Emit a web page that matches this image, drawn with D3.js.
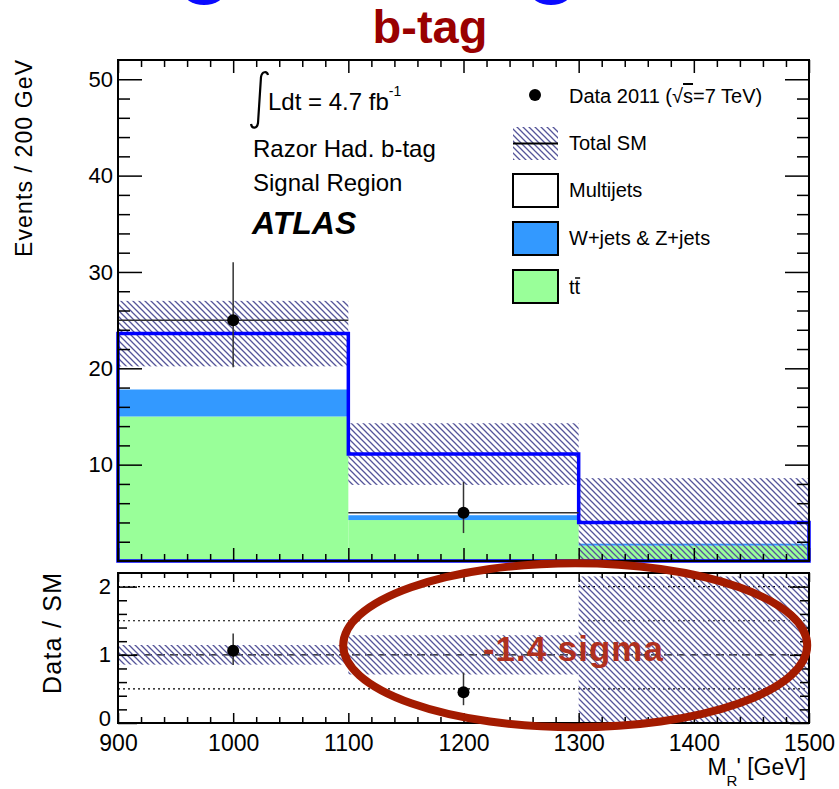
<!DOCTYPE html>
<html>
<head>
<meta charset="utf-8">
<style>
  body { margin: 0; background: #fff; }
  svg { display: block; font-family: "Liberation Sans", Arial, Helvetica, sans-serif; }
</style>
</head>
<body>
<svg width="839" height="789"></svg>
<script src="https://d3js.org/d3.v7.min.js"></script>
<script>
// bins of M_R' [GeV]
var binEdges = [900, 1100, 1300, 1500];
// stacked backgrounds (events / 200 GeV)
var ttbar = [15.0, 4.25, 1.6];
var wzjets = [2.8, 0.5, 0.2];
var multijets = [5.8, 6.35, 2.2];
var smErr = [3.4, 3.2, 4.6];
// data
var dataCounts = [25, 5, 0];
var dataErrUp = [6.0, 3.2, 0];
var dataErrDown = [4.9, 2.1, 0];
// ticks
var xTicks = [900, 1000, 1100, 1200, 1300, 1400, 1500];
var yTicks = [10, 20, 30, 40, 50];
var ratioTicks = [0, 1, 2];
var ratioGrid = [0.5, 1.5, 2];

var font = "Liberation Sans, Arial, sans-serif";
var svg = d3.select("svg");
svg.append("rect").attr("width", 839).attr("height", 789).attr("fill", "#fff");

var x = d3.scaleLinear().domain([900, 1500]).range([118, 809]),
    y = d3.scaleLinear().domain([0, 52]).range([561, 60]),
    yr = d3.scaleLinear().domain([0, 2.2]).range([723, 573]);

var green = "#99ff99", blue = "#3399ff", hatchCol = "#55559a";

var defs = svg.append("defs");
defs.append("pattern").attr("id", "hatch")
    .attr("patternUnits", "userSpaceOnUse").attr("width", 6).attr("height", 6)
  .append("path").attr("d", "M-1,-1L7,7M-1,5L1,7M5,-1L7,1")
    .attr("stroke", hatchCol).attr("stroke-width", 1.3);

var bins = binEdges.slice(0, -1).map(function(e, i) {
    var total = ttbar[i] + wzjets[i] + multijets[i];
    return {
        x0: e, x1: binEdges[i + 1], xc: (e + binEdges[i + 1]) / 2,
        tt: ttbar[i], wz: wzjets[i], total: total, err: smErr[i],
        data: dataCounts[i], up: dataErrUp[i], down: dataErrDown[i]
    };
});

// ---------- upper panel ----------
var upper = svg.append("g");

// stack fills
upper.selectAll(".tt").data(bins).join("rect")
    .attr("x", function(d) { return x(d.x0); })
    .attr("width", function(d) { return x(d.x1) - x(d.x0); })
    .attr("y", function(d) { return y(d.tt); })
    .attr("height", function(d) { return y(0) - y(d.tt); })
    .attr("fill", green);
upper.selectAll(".wz").data(bins).join("rect")
    .attr("x", function(d) { return x(d.x0); })
    .attr("width", function(d) { return x(d.x1) - x(d.x0); })
    .attr("y", function(d) { return y(d.tt + d.wz); })
    .attr("height", function(d) { return y(d.tt) - y(d.tt + d.wz); })
    .attr("fill", blue);

// SM uncertainty band
upper.selectAll(".band").data(bins).join("rect")
    .attr("x", function(d) { return x(d.x0); })
    .attr("width", function(d) { return x(d.x1) - x(d.x0); })
    .attr("y", function(d) { return y(d.total + d.err); })
    .attr("height", function(d) { return y(Math.max(0, d.total - d.err)) - y(d.total + d.err); })
    .attr("fill", "url(#hatch)");

// total SM black line
upper.selectAll(".sm").data(bins).join("line")
    .attr("x1", function(d) { return x(d.x0); })
    .attr("x2", function(d) { return x(d.x1); })
    .attr("y1", function(d) { return y(d.total); })
    .attr("y2", function(d) { return y(d.total); })
    .attr("stroke", "#000").attr("stroke-width", 1.5);

// blue histogram outline
var outline = [[binEdges[0], 0]];
bins.forEach(function(d) { outline.push([d.x0, d.total], [d.x1, d.total]); });
outline.push([binEdges[binEdges.length - 1], 0]);
upper.append("path")
    .attr("d", d3.line().x(function(p) { return x(p[0]); }).y(function(p) { return y(p[1]); })(outline) + "Z")
    .attr("fill", "none").attr("stroke", "#0000ff").attr("stroke-width", 3.5);

// data points
var dpts = bins.filter(function(d) { return d.data > 0; });
upper.selectAll(".ex").data(dpts).join("line")
    .attr("x1", function(d) { return x(d.x0); }).attr("x2", function(d) { return x(d.x1); })
    .attr("y1", function(d) { return y(d.data); }).attr("y2", function(d) { return y(d.data); })
    .attr("stroke", "#333").attr("stroke-width", 1.5);
upper.selectAll(".ey").data(dpts).join("line")
    .attr("x1", function(d) { return x(d.xc); }).attr("x2", function(d) { return x(d.xc); })
    .attr("y1", function(d) { return y(d.data + d.up); }).attr("y2", function(d) { return y(d.data - d.down); })
    .attr("stroke", "#333").attr("stroke-width", 1.5);
upper.selectAll(".pt").data(dpts).join("circle")
    .attr("cx", function(d) { return x(d.xc); }).attr("cy", function(d) { return y(d.data); })
    .attr("r", 6).attr("fill", "#000");

// axes (ticks inside the frame, ROOT style)
function clean(g) {
    g.select(".domain").remove();
    g.attr("font-family", font);
    g.selectAll("line").attr("stroke-width", 1.5);
}
var yMinor = d3.range(2, 52, 2).filter(function(v) { return v % 10; });
var xMinor = d3.range(900, 1500, 20).filter(function(v) { return v % 100; });

upper.append("g").attr("transform", "translate(118,0)")
    .call(d3.axisLeft(y).tickValues(yTicks).tickSize(-24).tickPadding(5))
    .call(clean)
    .selectAll("text").attr("font-size", 22).attr("fill", "#000");
upper.append("g").attr("transform", "translate(118,0)")
    .call(d3.axisLeft(y).tickValues(yMinor).tickSize(-12).tickFormat("")).call(clean);
upper.append("g").attr("transform", "translate(809,0)")
    .call(d3.axisRight(y).tickValues(yTicks).tickSize(-24).tickFormat("")).call(clean);
upper.append("g").attr("transform", "translate(809,0)")
    .call(d3.axisRight(y).tickValues(yMinor).tickSize(-12).tickFormat("")).call(clean);
upper.append("g").attr("transform", "translate(0,561)")
    .call(d3.axisBottom(x).tickValues(xTicks).tickSize(-13).tickFormat("")).call(clean);
upper.append("g").attr("transform", "translate(0,561)")
    .call(d3.axisBottom(x).tickValues(xMinor).tickSize(-7).tickFormat("")).call(clean);
upper.append("g").attr("transform", "translate(0,60)")
    .call(d3.axisTop(x).tickValues(xTicks).tickSize(-13).tickFormat("")).call(clean);
upper.append("g").attr("transform", "translate(0,60)")
    .call(d3.axisTop(x).tickValues(xMinor).tickSize(-7).tickFormat("")).call(clean);
upper.append("rect").attr("x", 118).attr("y", 60).attr("width", 691).attr("height", 501)
    .attr("fill", "none").attr("stroke", "#000").attr("stroke-width", 2);

// ---------- ratio panel ----------
var rp = svg.append("g");
rp.selectAll(".grid").data(ratioGrid).join("line")
    .attr("x1", 118).attr("x2", 809)
    .attr("y1", function(d) { return yr(d); }).attr("y2", function(d) { return yr(d); })
    .attr("stroke", "#000").attr("stroke-width", 1.2).attr("stroke-dasharray", "2,3");
rp.append("line").attr("x1", 118).attr("x2", 809).attr("y1", yr(1)).attr("y2", yr(1))
    .attr("stroke", "#000").attr("stroke-width", 1.2).attr("stroke-dasharray", "8,5");

rp.selectAll(".rband").data(bins).join("rect")
    .attr("x", function(d) { return x(d.x0); })
    .attr("width", function(d) { return x(d.x1) - x(d.x0); })
    .attr("y", function(d) { return yr(Math.min(2.16, 1 + d.err / d.total)); })
    .attr("height", function(d) {
        return yr(Math.max(0, 1 - d.err / d.total)) - yr(Math.min(2.16, 1 + d.err / d.total));
    })
    .attr("fill", "url(#hatch)");

rp.selectAll(".rey").data(dpts).join("line")
    .attr("x1", function(d) { return x(d.xc); }).attr("x2", function(d) { return x(d.xc); })
    .attr("y1", function(d) { return yr((d.data + d.up) / d.total); })
    .attr("y2", function(d) { return yr((d.data - d.down) / d.total); })
    .attr("stroke", "#333").attr("stroke-width", 1.5);
rp.selectAll(".rpt").data(dpts).join("circle")
    .attr("cx", function(d) { return x(d.xc); }).attr("cy", function(d) { return yr(d.data / d.total); })
    .attr("r", 6).attr("fill", "#000");

var rMinor = d3.range(0.2, 2.2, 0.2).filter(function(v) { return Math.abs(v - Math.round(v)) > 0.01; });
rp.append("g").attr("transform", "translate(118,0)")
    .call(d3.axisLeft(yr).tickValues(ratioTicks).tickSize(-19).tickPadding(7).tickFormat(d3.format("d")))
    .call(clean)
    .selectAll("text").attr("font-size", 22).attr("fill", "#000")
    .attr("dy", function(d) { return d === 0 ? "0.1em" : "0.32em"; });
rp.append("g").attr("transform", "translate(118,0)")
    .call(d3.axisLeft(yr).tickValues(rMinor).tickSize(-9).tickFormat("")).call(clean);
rp.append("g").attr("transform", "translate(809,0)")
    .call(d3.axisRight(yr).tickValues(ratioTicks).tickSize(-19).tickFormat("")).call(clean);
rp.append("g").attr("transform", "translate(809,0)")
    .call(d3.axisRight(yr).tickValues(rMinor).tickSize(-9).tickFormat("")).call(clean);
rp.append("g").attr("transform", "translate(0,723)")
    .call(d3.axisBottom(x).tickValues(xTicks).tickSize(-10).tickPadding(12).tickFormat(d3.format("d")))
    .call(clean)
    .selectAll("text").attr("font-size", 23).attr("fill", "#000");
rp.append("g").attr("transform", "translate(0,723)")
    .call(d3.axisBottom(x).tickValues(xMinor).tickSize(-6).tickFormat("")).call(clean);
rp.append("g").attr("transform", "translate(0,573)")
    .call(d3.axisTop(x).tickValues(xTicks).tickSize(-9).tickFormat("")).call(clean);
rp.append("g").attr("transform", "translate(0,573)")
    .call(d3.axisTop(x).tickValues(xMinor).tickSize(-5).tickFormat("")).call(clean);
rp.append("rect").attr("x", 118).attr("y", 573).attr("width", 691).attr("height", 150)
    .attr("fill", "none").attr("stroke", "#000").attr("stroke-width", 2);

// ---------- axis titles ----------
svg.append("text").attr("transform", "translate(32,60) rotate(-90)")
    .attr("text-anchor", "end").attr("font-size", 23).attr("textLength", 197)
    .text("Events / 200 GeV");
svg.append("text").attr("transform", "translate(61,573) rotate(-90)")
    .attr("text-anchor", "end").attr("font-size", 25).attr("textLength", 121)
    .text("Data / SM");
var xt = svg.append("text").attr("x", 806).attr("y", 775).attr("text-anchor", "end").attr("font-size", 23);
xt.append("tspan").text("M");
xt.append("tspan").attr("font-size", 15).attr("dy", 11).text("R");
xt.append("tspan").attr("dy", -11).attr("dx", -1).text("' [GeV]");

// ---------- labels ----------
svg.append("path").attr("d", "M268,75C267,71 262,71 261,77L258,123C257,129 252,129 251,124")
    .attr("fill", "none").attr("stroke", "#000").attr("stroke-width", 2.2);
var lum = svg.append("text").attr("x", 268).attr("y", 110).attr("font-size", 24);
lum.append("tspan").text("Ldt = 4.7 fb");
lum.append("tspan").attr("font-size", 14).attr("dy", -14).text("-1");
svg.append("text").attr("x", 253).attr("y", 157).attr("font-size", 24).text("Razor Had. b-tag");
svg.append("text").attr("x", 253).attr("y", 191).attr("font-size", 24).text("Signal Region");
svg.append("text").attr("x", 252).attr("y", 234).attr("font-size", 32)
    .attr("font-weight", "bold").attr("font-style", "italic").text("ATLAS");

// legend
var lg = svg.append("g").attr("font-size", 20);
lg.append("circle").attr("cx", 535).attr("cy", 95).attr("r", 6).attr("fill", "#000");
var dt = lg.append("text").attr("x", 569).attr("y", 103);
dt.append("tspan").text("Data 2011 (\u221A");
dt.append("tspan").attr("text-decoration", "overline").text("s");
dt.append("tspan").text("=7 TeV)");
lg.append("rect").attr("x", 513).attr("y", 127).attr("width", 45).attr("height", 33).attr("fill", "url(#hatch)");
lg.append("line").attr("x1", 513).attr("x2", 558).attr("y1", 143.5).attr("y2", 143.5)
    .attr("stroke", "#000").attr("stroke-width", 2);
lg.append("text").attr("x", 569).attr("y", 150).text("Total SM");
var boxes = [
    { fill: "#fff", y: 174 },
    { fill: blue, y: 222 },
    { fill: green, y: 270 }
];
boxes.forEach(function(b) {
    lg.append("rect").attr("x", 513).attr("y", b.y).attr("width", 45).attr("height", 33)
        .attr("fill", b.fill).attr("stroke", "#000").attr("stroke-width", 2);
});
lg.append("text").attr("x", 569).attr("y", 197).text("Multijets");
lg.append("text").attr("x", 569).attr("y", 245).text("W+jets & Z+jets");
var ttl = lg.append("text").attr("x", 569).attr("y", 294).text("tt");
var tw = ttl.node().getComputedTextLength() / 2;
lg.append("line").attr("x1", 569 + tw + 0.5).attr("x2", 569 + 2 * tw).attr("y1", 278).attr("y2", 278)
    .attr("stroke", "#000").attr("stroke-width", 1.5);

// ---------- annotation ----------
svg.append("ellipse").attr("cx", x(1297)).attr("cy", yr(1.14))
    .attr("rx", 232).attr("ry", 82)
    .attr("fill", "none").attr("stroke", "#a31b00").attr("stroke-width", 8);
svg.append("text").attr("x", x(1295)).attr("y", yr(0.91)).attr("text-anchor", "middle")
    .attr("font-size", 35).attr("font-weight", "bold").attr("fill", "#b0301f")
    .attr("textLength", 180).text("-1.4 sigma");

// title and clipped blue shapes at the top
svg.append("text").attr("x", 430).attr("y", 43).attr("text-anchor", "middle")
    .attr("font-size", 47).attr("font-weight", "bold").attr("fill", "#990000").text("b-tag");
svg.append("ellipse").attr("cx", 204).attr("cy", -9).attr("rx", 21).attr("ry", 14).attr("fill", "#0a0aff");
svg.append("ellipse").attr("cx", 551).attr("cy", -9).attr("rx", 21).attr("ry", 14).attr("fill", "#0a0aff");
</script>
</body>
</html>
